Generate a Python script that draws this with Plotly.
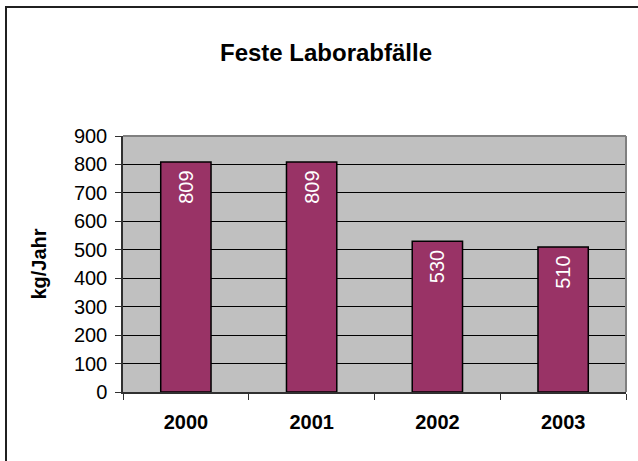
import plotly.graph_objects as go

years = ["2000", "2001", "2002", "2003"]
values = [809, 809, 530, 510]
value_labels = ["809", "809", "530", "510"]
y_ticks = [0, 100, 200, 300, 400, 500, 600, 700, 800, 900]

FONT = "Liberation Sans, Arial, sans-serif"

fig = go.Figure()
fig.add_trace(go.Bar(
    x=years,
    y=values,
    text=value_labels,
    texttemplate="%{text}\u00a0",
    textposition="inside",
    insidetextanchor="end",
    textangle=-90,
    textfont=dict(family=FONT, size=20, color="white"),
    marker=dict(color="#993366", line=dict(color="black", width=1.5)),
    cliponaxis=False,
    hoverinfo="skip",
))

fig.update_layout(
    width=638,
    height=461,
    margin=dict(l=123, r=12, t=136, b=69),
    paper_bgcolor="white",
    plot_bgcolor="#C0C0C0",
    showlegend=False,
    bargap=0.6,
    title=dict(
        text="<b>Feste Laborabfälle</b>",
        font=dict(family=FONT, size=24, color="black"),
        x=0.511, xref="container", xanchor="center",
        y=0.885, yref="container", yanchor="middle",
    ),
    xaxis=dict(
        type="category",
        tickson="boundaries",
        ticks="outside",
        ticklen=6,
        tickcolor="#303030",
        showline=True,
        linecolor="#303030",
        linewidth=1.5,
        showgrid=False,
        tickfont=dict(family=FONT, size=20, color="black", weight="bold"),
        ticklabelstandoff=11,
    ),
    yaxis=dict(
        range=[0, 900],
        tickvals=y_ticks,
        ticks="outside",
        ticklen=6,
        tickcolor="#303030",
        showline=True,
        linecolor="#303030",
        linewidth=1.5,
        showgrid=True,
        gridcolor="black",
        gridwidth=1,
        zeroline=False,
        tickfont=dict(family=FONT, size=20, color="black"),
        ticklabelstandoff=4,
        title=dict(
            text="<b>kg/Jahr</b>",
            font=dict(family=FONT, size=20, color="black"),
            standoff=22,
        ),
    ),
    shapes=[
        dict(type="line", xref="paper", yref="paper", x0=0, x1=1, y0=1, y1=1,
             line=dict(color="#808080", width=2)),
        dict(type="line", xref="paper", yref="paper", x0=1, x1=1, y0=0, y1=1,
             line=dict(color="#808080", width=2)),
        dict(type="rect", xref="paper", yref="paper",
             x0=-0.2326, x1=1.2, y0=-0.6, y1=1.504,
             line=dict(color="#202020", width=2), layer="below"),
    ],
)

fig.write_html("out.html", config={"displayModeBar": False},
               post_script="document.body.style.margin='0';")
